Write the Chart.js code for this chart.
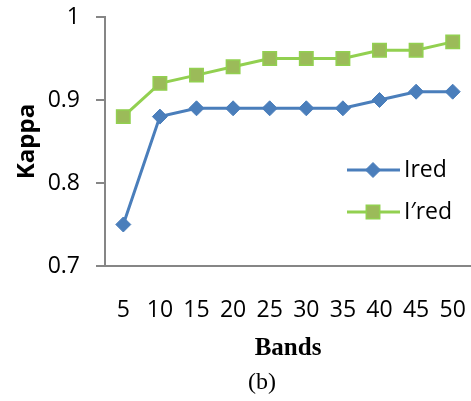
<!DOCTYPE html>
<html>
<head>
<meta charset="utf-8">
<script src="https://cdn.jsdelivr.net/npm/chart.js@4.4.1/dist/chart.umd.min.js"></script>
<style>
    html, body { margin: 0; padding: 0; background: #fff; overflow: hidden; }
    #wrap { position: relative; width: 471px; height: 401px; }
</style>
</head>
<body>
<div id="wrap"><canvas id="chart-kappa" width="471" height="401"></canvas></div>
<script>
// Kappa por número de bandas
const bandas = ['5', '10', '15', '20', '25', '30', '35', '40', '45', '50'];
const kappaIred = [0.75, 0.88, 0.89, 0.89, 0.89, 0.89, 0.89, 0.90, 0.91, 0.91];
const kappaIredPrima = [0.88, 0.92, 0.93, 0.94, 0.95, 0.95, 0.95, 0.96, 0.96, 0.97];
const kappaTicks = [0.7, 0.8, 0.9, 1];

const AXIS_GRAY = '#868686';
const SANS = '"Open Sans", "DejaVu Sans", sans-serif';
const SERIF = '"Liberation Serif", "DejaVu Serif", serif';

// Sin relleno extra de las etiquetas en los bordes
function sinRelleno(scale) {
    scale.paddingLeft = 0;
    scale.paddingRight = 0;
    scale.paddingTop = 0;
    scale.paddingBottom = 0;
}

// Leyenda dentro del área de la gráfica
const leyendaPlugin = {
    id: 'leyenda',
    afterDatasetsDraw(chart) {
        const ctx = chart.ctx;
        const filas = [170, 212];
        chart.data.datasets.forEach((ds, i) => {
            const y = filas[i];
            ctx.save();
            ctx.strokeStyle = ds.borderColor;
            ctx.lineWidth = ds.borderWidth;
            ctx.beginPath();
            ctx.moveTo(347, y);
            ctx.lineTo(400, y);
            ctx.stroke();
            ctx.fillStyle = ds.pointBackgroundColor;
            ctx.strokeStyle = ds.pointBorderColor;
            ctx.lineWidth = ds.pointBorderWidth;
            Chart.helpers.drawPoint(ctx, {
                pointStyle: ds.pointStyle,
                radius: ds.pointRadius,
                borderWidth: ds.pointBorderWidth,
                rotation: 0
            }, 373, y);
            ctx.fillStyle = '#000';
            ctx.font = '23px ' + SANS;
            ctx.textBaseline = 'middle';
            ctx.textAlign = 'left';
            ctx.fillText(ds.label, 404, y);
            ctx.restore();
        });
    }
};

// Subtítulo "(b)" y pie de figura (cortado por el borde inferior)
const pieFigura = {
    id: 'pieFigura',
    afterDraw(chart) {
        const ctx = chart.ctx;
        ctx.save();
        ctx.fillStyle = '#000';
        ctx.textAlign = 'center';
        ctx.textBaseline = 'middle';
        ctx.font = '24px ' + SERIF;
        ctx.fillText('(b)', 262, 383);
        ctx.textAlign = 'left';
        ctx.textBaseline = 'alphabetic';
        ctx.font = '22px ' + SERIF;
        ctx.fillText('ification  Classification results for different number', 33, 416);
        ctx.restore();
    }
};

const ctx = document.getElementById('chart-kappa');
const kappaChart = new Chart(ctx, {
    type: 'line',
    data: {
        labels: bandas,
        datasets: [{
            label: 'Ired',
            data: kappaIred,
            borderColor: '#4a7ebb',
            backgroundColor: '#4a7ebb',
            borderWidth: 3,
            pointStyle: 'rectRot',
            pointRadius: 7.5,
            pointBackgroundColor: '#4a7ebb',
            pointBorderColor: '#4a7ebb',
            pointBorderWidth: 1,
            tension: 0
        }, {
            label: 'I\u2032red',
            data: kappaIredPrima,
            borderColor: '#92d050',
            backgroundColor: '#9bbb59',
            borderWidth: 3,
            pointStyle: 'rect',
            pointRadius: 9.5,
            pointBackgroundColor: '#9bbb59',
            pointBorderColor: '#92d050',
            pointBorderWidth: 1.5,
            tension: 0
        }]
    },
    options: {
        responsive: false,
        animation: false,
        layout: { padding: { top: 17, right: 0, left: 0, bottom: 0 }, autoPadding: false },
        plugins: {
            legend: { display: false },
            tooltip: { enabled: false }
        },
        scales: {
            x: {
                offset: true,
                grid: { display: false },
                border: { display: true, color: AXIS_GRAY, width: 2 },
                ticks: {
                    color: '#000',
                    font: { family: SANS, size: 23 },
                    padding: 23,
                    autoSkip: false,
                    maxRotation: 0
                },
                title: {
                    display: true,
                    text: 'Bands',
                    color: '#000',
                    font: { family: SERIF, size: 25, weight: 'bold' },
                    padding: { top: 0, bottom: 37 }
                },
                afterFit: (scale) => {
                    scale.height = 135;
                    sinRelleno(scale);
                }
            },
            y: {
                min: 0.7,
                max: 1,
                grid: {
                    drawOnChartArea: false,
                    drawTicks: true,
                    tickLength: 9,
                    color: AXIS_GRAY,
                    lineWidth: 2
                },
                border: { display: true, color: AXIS_GRAY, width: 2 },
                afterBuildTicks: (scale) => {
                    scale.ticks = kappaTicks.map(v => ({ value: v }));
                },
                ticks: {
                    color: '#000',
                    font: { family: SANS, size: 23 },
                    padding: 16,
                    callback: (value) => String(Number(value.toFixed(1)))
                },
                title: {
                    display: true,
                    text: 'Kappa',
                    color: '#000',
                    font: { family: SANS, size: 24, weight: 'bold' },
                    padding: { top: 13, bottom: 0 }
                },
                afterFit: (scale) => {
                    scale.width = 105;
                    sinRelleno(scale);
                }
            }
        }
    },
    plugins: [leyendaPlugin, pieFigura]
});
</script>
</body>
</html>
